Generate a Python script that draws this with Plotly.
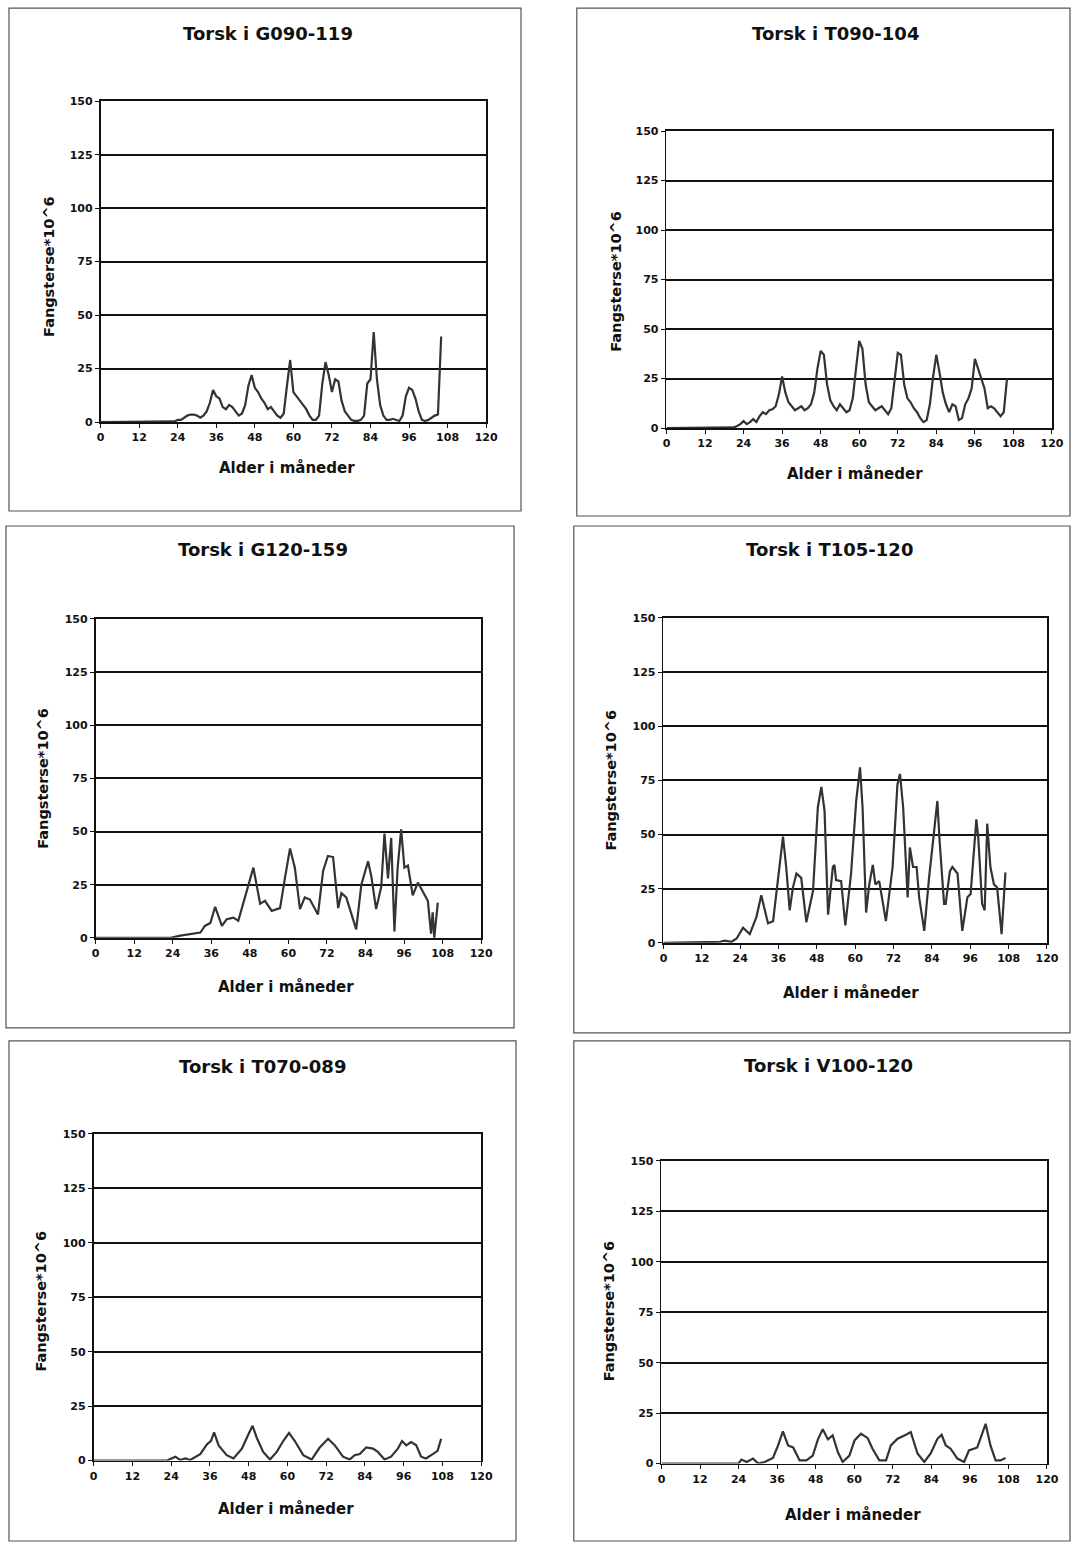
import plotly.graph_objects as go

W, H = 1082, 1548

# ---------------- data ----------------
titles = ["Torsk i G090-119", "Torsk i T090-104", "Torsk i G120-159",
          "Torsk i T105-120", "Torsk i T070-089", "Torsk i V100-120"]
x_ticks = [0, 12, 24, 36, 48, 60, 72, 84, 96, 108, 120]
y_ticks = [0, 25, 50, 75, 100, 125, 150]
x_label = "Alder i måneder"
y_label = "Fangsterse*10^6"

# Panel 1: G090-119 (monthly)
p1_x = list(range(0, 107))
p1_y = [0]*23 + [0.3, 1, 1, 2, 3, 3.5, 3.5, 3, 2, 3, 5, 9, 15, 12, 11, 7, 6, 8, 7, 5, 3,
                 4, 8, 17, 22, 16, 14, 11, 9, 6, 7, 5, 3, 2, 4, 17, 29, 14, 12, 10, 8, 6, 3,
                 1, 1, 3, 18, 28, 22, 14, 20, 19, 10, 5, 3, 1, 0.5, 0.5, 1, 3, 18, 20, 42,
                 20, 8, 3, 1, 1, 1.5, 1, 0.5, 3, 12, 16, 15, 11, 5, 1, 0.5, 1, 2, 3, 3.5, 40]

# Panel 2: T090-104 (monthly)
p2_x = list(range(0, 107))
p2_y = [0]*21 + [0.3, 1, 2, 3.5, 2, 3, 4.5, 3, 6, 8, 7, 9, 9.5, 11, 17, 26, 18, 13, 11, 9,
                 10, 11, 9, 10, 12, 18, 30, 39, 37, 22, 14, 11, 9, 12, 10, 8, 9, 15, 30, 44,
                 40, 22, 13, 11, 9, 10, 11, 9, 7, 10, 25, 38, 37, 22, 15, 13, 10, 8, 5, 3, 4,
                 12, 26, 37, 28, 18, 12, 8, 12, 11, 4, 5, 12, 15, 20, 35, 30, 25, 20, 10, 11,
                 10, 8, 6, 8, 25]

# Panel 3: G120-159
p3_x = [0, 23.3, 26.4, 29.5, 32.6, 34, 35.7, 37.2, 39.3, 40.8, 42.9, 44.4, 46, 49.1, 51.2,
        52.7, 54.8, 57.4, 58.9, 60.5, 62, 63.6, 65.1, 66.7, 69.2, 70.8, 72.3, 73.9, 75.5,
        76.5, 78, 79.6, 81.1, 82.7, 84.8, 85.8, 87.3, 88.9, 89.9, 91, 92, 93, 94, 95.1,
        96.1, 97.2, 98.7, 100.3, 101.8, 103.4, 104.4, 104.9, 105.4, 106.5]
p3_y = [0, 0, 1, 1.7, 2.5, 5.6, 7, 14.6, 5.6, 8.8, 9.5, 8, 16.6, 33, 16, 17.4, 12.7, 14, 28,
        42, 33, 13.5, 19, 18, 11, 31.5, 38.5, 38, 14, 21, 19, 11, 4, 25, 36, 29, 13.5, 24,
        49, 28, 47, 3, 33, 51, 33, 34, 20, 26, 22, 17.4, 2, 12, 0, 16.6]

# Panel 4: T105-120
p4_x = [0, 17.7, 19.2, 21.3, 22.9, 24.9, 27, 29.1, 30.6, 32.7, 34.3, 35.8, 37.4, 38.4, 39.5,
        40.5, 41.6, 43.1, 44.7, 46.8, 48.3, 49.4, 50.4, 51.5, 53, 53.5, 54, 55.6, 56.9, 58.7,
        60.3, 61.5, 62.3, 63.4, 64.4, 65.5, 66.3, 67.5, 69.6, 71.7, 73.2, 74, 75, 76.4, 77.1,
        78.1, 79.2, 80, 81.6, 83.1, 84.7, 85.7, 86.4, 87.8, 88.3, 89.6, 90.4, 92, 93.5, 95.1,
        96.1, 97.1, 97.9, 98.5, 99.7, 100.5, 101.3, 102.3, 103.4, 104.4, 105.8, 107]
p4_y = [0, 0.5, 1, 0.5, 2, 7, 4, 12, 22, 9, 10, 29, 49, 35, 15, 25.5, 32, 30, 9.5, 24, 62.5,
        72, 61, 13, 35, 36, 29, 28.5, 8, 32, 65.5, 81, 62.5, 14, 27, 36, 27, 28.5, 10, 35, 73,
        78, 62.5, 21, 44, 35, 35, 21, 5.5, 30, 52, 65.5, 47, 18, 18, 33, 35, 32, 5.5, 21, 22.5,
        42.5, 57, 48.5, 18, 15, 55, 35, 27, 25.5, 4, 32.5]

# Panel 5: T070-089
p5_x = [0, 22.7, 25.3, 26.8, 28.4, 29.9, 33, 35.1, 36.3, 37.3, 38.7, 41.2, 43.3, 45.9, 47.9,
        49.2, 50.5, 52.5, 54.6, 56.7, 58.7, 60.5, 62.3, 64.9, 67.5, 70, 72.6, 74.7, 77.2, 79.3,
        80.8, 82.4, 84.4, 86.5, 88, 90.1, 92.1, 94.2, 95.5, 96.8, 98.3, 99.9, 101.4, 102.9,
        105, 106.5, 107.6]
p5_y = [0, 0, 1.8, 0.3, 1, 0.3, 3, 7.5, 9, 13, 7, 2.5, 1, 5.5, 12, 16, 10.5, 4, 0.5, 4, 9,
        12.7, 9, 2.5, 0.5, 6, 10, 7, 1.8, 0.5, 2.5, 3, 6, 5.5, 4, 0.5, 1.8, 5.5, 9, 7, 8.5, 7,
        1.8, 1, 3, 4.5, 10]

# Panel 6: V100-120
p6_x = [0, 23.9, 24.9, 26.5, 28.5, 30.1, 32.1, 34.7, 36.3, 37.8, 39.4, 41, 43, 45.1, 47.1,
        48.7, 50.2, 51.8, 53.3, 54.9, 56.4, 58.5, 60.1, 62.1, 64.2, 65.7, 67.8, 69.9, 71.4,
        73.5, 76.1, 77.6, 79.7, 81.8, 83.8, 85.9, 87.2, 88.5, 90, 92.1, 94.2, 95.7, 98.3,
        100.9, 102.4, 104, 105.5, 107.1]
p6_y = [0, 0, 2, 0.8, 2.5, 0, 0.8, 2.8, 9, 16, 9, 8, 1.6, 1.6, 4, 12, 17, 12, 14, 5.7, 0.8,
        4, 11.5, 14.8, 12.6, 7.4, 1.6, 1.6, 9, 12.3, 14.3, 15.6, 5, 0.8, 5, 12.3, 14.3, 9, 7.4,
        2.5, 0.8, 6.5, 8, 19.7, 9, 1.6, 1.6, 2.8]

series = [(p1_x, p1_y), (p2_x, p2_y), (p3_x, p3_y), (p4_x, p4_y), (p5_x, p5_y), (p6_x, p6_y)]

# ---------------- layout (pixel geometry) ----------------
plot_boxes = [(100, 100, 487, 421), (668, 130, 1055, 427),
              (95, 618, 482, 937), (665, 617, 1050, 942),
              (93, 1133, 482, 1460), (663, 1160, 1050, 1463)]
outer_boxes = [(8, 7, 522, 510), (578, 7, 1075, 515),
               (5, 525, 515, 1027), (575, 525, 1080, 1032),
               (8, 1040, 517, 1547), (575, 1040, 1080, 1547)]
title_pos = [(268, 32), (838, 32), (263, 549), (832, 549), (262, 1066), (831, 1065)]
xlab_pos = [(287, 467), (857, 473), (286, 986), (853, 992), (286, 1508), (855, 1514)]
ylab_pos = [(48, 265), (617, 280), (42, 777), (612, 779), (40, 1300), (610, 1310)]

# small empirical correction for the capture's scaling/offset
SX, CX = 0.989, 3.0
SY, CY = 0.992, 4.8

def px(x):
    return min(max(((x - CX) / SX) / W, 0), 1)

def py(y):
    return min(max(1 - ((y - CY) / SY) / H, 0), 1)

fig = go.Figure()
layout = dict(width=W, height=H, margin=dict(l=0, r=0, t=0, b=0),
              paper_bgcolor="white", plot_bgcolor="white", showlegend=False,
              font=dict(family="DejaVu Sans, Liberation Sans, Arial", color="#111"))
annotations = []
shapes = []
tick_font = dict(size=11, family="DejaVu Sans", color="#111")

for i, (xs, ys) in enumerate(series):
    n = i + 1
    sfx = "" if n == 1 else str(n)
    x0, y0, x1, y1 = plot_boxes[i]
    fig.add_trace(go.Scatter(x=xs, y=ys, mode="lines", xaxis="x" + sfx, yaxis="y" + sfx,
                             line=dict(color="#333333", width=2.2), hoverinfo="skip"))
    layout["xaxis" + sfx] = dict(domain=[px(x0), px(x1)], anchor="y" + sfx, range=[0, 120],
                                 tickvals=x_ticks, ticktext=["<b>%d</b>" % v for v in x_ticks],
                                 showgrid=False, zeroline=False,
                                 showline=True, linecolor="#111", linewidth=1.8, mirror=True,
                                 ticks="outside", ticklen=4, tickcolor="#111",
                                 tickfont=tick_font, fixedrange=True)
    layout["yaxis" + sfx] = dict(domain=[py(y1), py(y0)], anchor="x" + sfx, range=[0, 150],
                                 tickvals=y_ticks, ticktext=["<b>%d</b>" % v for v in y_ticks],
                                 showgrid=True, gridcolor="#111",
                                 gridwidth=2, zeroline=False, showline=True,
                                 linecolor="#111", linewidth=1.8, mirror=True,
                                 ticks="outside", ticklen=4, tickcolor="#111",
                                 tickfont=tick_font, fixedrange=True)
    ox0, oy0, ox1, oy1 = outer_boxes[i]
    shapes.append(dict(type="rect", xref="paper", yref="paper",
                       x0=px(ox0), x1=px(ox1), y0=py(oy1), y1=py(oy0),
                       line=dict(color="#555", width=1.2)))
    tx, ty = title_pos[i]
    annotations.append(dict(text="<b>" + titles[i] + "</b>", x=px(tx), y=py(ty),
                            xref="paper", yref="paper", showarrow=False,
                            xanchor="center", yanchor="middle",
                            font=dict(size=18, family="DejaVu Sans", color="#111")))
    lx, ly = xlab_pos[i]
    annotations.append(dict(text="<b>" + x_label + "</b>", x=px(lx), y=py(ly),
                            xref="paper", yref="paper", showarrow=False,
                            xanchor="center", yanchor="middle",
                            font=dict(size=15, family="DejaVu Sans", color="#111")))
    yx, yy = ylab_pos[i]
    annotations.append(dict(text="<b>" + y_label + "</b>", x=px(yx), y=py(yy),
                            xref="paper", yref="paper", showarrow=False, textangle=-90,
                            xanchor="center", yanchor="middle",
                            font=dict(size=14.5, family="DejaVu Sans", color="#111")))

layout["annotations"] = annotations
layout["shapes"] = shapes
fig.update_layout(**layout)
fig.write_html("out.html", config={"displayModeBar": False, "staticPlot": True},
               post_script="document.body.style.margin='0';document.body.style.overflow='hidden';")
